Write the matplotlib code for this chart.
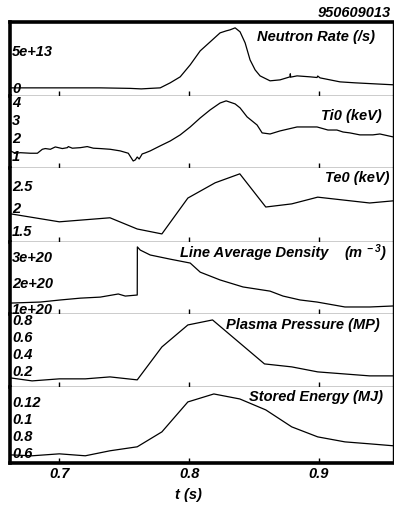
import matplotlib.pyplot as plt
import matplotlib.ticker as ticker

# Fuente tipo Helvetica negrita cursiva para todo el grafico
plt.rcParams['font.family'] = ['Liberation Sans', 'DejaVu Sans']
plt.rcParams['font.weight'] = 'bold'
plt.rcParams['font.style'] = 'italic'
plt.rcParams['font.size'] = 10.5
plt.rcParams['mathtext.fontset'] = 'custom'
plt.rcParams['mathtext.rm'] = 'Liberation Sans:bold:italic'
plt.rcParams['mathtext.it'] = 'Liberation Sans:bold:italic'

disparo = '950609013'

# Tasa de neutrones (/s)
t_neutrones = [0.6623, 0.7008, 0.7315, 0.7546, 0.7631, 0.7700, 0.7777, 0.7854, 0.7931,
               0.8008, 0.8085, 0.8162, 0.8238, 0.8285, 0.8315, 0.8354, 0.8392, 0.8431,
               0.8469, 0.8508, 0.8546, 0.8623, 0.8700, 0.8777, 0.8779, 0.8782, 0.8831,
               0.8931, 0.8985, 0.8990, 0.9008, 0.9162, 0.9277, 0.9431, 0.9577]
neutrones = [0.0, 0.0, 0.0, -0.07, -0.14, -0.07, 0.0, 0.68, 1.49,
             3.11, 5.0, 6.22, 7.43, 7.70, 7.84, 8.11, 7.57, 6.08,
             3.78, 2.43, 1.62, 0.95, 1.08, 1.49, 1.90, 1.45, 1.62,
             1.49, 1.40, 1.60, 1.35, 0.81, 0.68, 0.54, 0.41]
neutrones = [v * 1e13 for v in neutrones]

# Temperatura ionica central (keV)
t_ti = [0.6623, 0.6662, 0.6700, 0.6777, 0.6831, 0.6869, 0.6892, 0.6931, 0.6969, 0.7023,
        0.7062, 0.7069, 0.7100, 0.7162, 0.7215, 0.7262, 0.7315, 0.7392, 0.7469, 0.7531,
        0.7569, 0.7585, 0.7600, 0.7615, 0.7638, 0.7662, 0.7700, 0.7777, 0.7854, 0.7931,
        0.8008, 0.8085, 0.8162, 0.8238, 0.8285, 0.8354, 0.8392, 0.8446, 0.8523, 0.8562,
        0.8623, 0.8700, 0.8831, 0.8985, 0.9069, 0.9138, 0.9185, 0.9238, 0.9315, 0.9415,
        0.9469, 0.9569]
ti = [1.28, 1.15, 1.18, 1.15, 1.15, 1.37, 1.41, 1.37, 1.50, 1.41,
      1.46, 1.52, 1.43, 1.46, 1.52, 1.43, 1.41, 1.37, 1.28, 1.15,
      0.72, 0.78, 0.94, 0.83, 1.11, 1.17, 1.28, 1.56, 1.83, 2.17,
      2.61, 3.11, 3.56, 3.94, 4.06, 3.89, 3.67, 3.17, 2.72, 2.28,
      2.22, 2.39, 2.61, 2.61, 2.44, 2.44, 2.33, 2.28, 2.17, 2.17,
      2.22, 2.06]

# Temperatura electronica central (keV)
t_te = [0.662, 0.700, 0.739, 0.760, 0.779, 0.799, 0.820, 0.839, 0.859, 0.879, 0.899, 0.939, 0.958]
te = [1.87, 1.69, 1.78, 1.53, 1.42, 2.22, 2.56, 2.76, 2.02, 2.09, 2.24, 2.11, 2.16]

# Densidad media de linea (m^-3)
t_densidad = [0.6623, 0.6854, 0.7008, 0.7162, 0.7315, 0.7454, 0.7508, 0.7600, 0.7601,
              0.7623, 0.7700, 0.7854, 0.8008, 0.8085, 0.8238, 0.8415, 0.8623, 0.8723,
              0.8854, 0.8985, 0.9200, 0.9392, 0.9577]
densidad = [1.19, 1.23, 1.31, 1.38, 1.42, 1.54, 1.46, 1.50, 3.35,
            3.23, 3.04, 2.88, 2.73, 2.38, 2.08, 1.81, 1.65, 1.46,
            1.31, 1.23, 1.04, 1.04, 1.08]
densidad = [v * 1e20 for v in densidad]

# Presion del plasma (MP)
t_presion = [0.662, 0.679, 0.700, 0.720, 0.739, 0.760, 0.779, 0.799, 0.818, 0.858, 0.879, 0.899, 0.939, 0.958]
presion = [0.118, 0.082, 0.106, 0.106, 0.129, 0.094, 0.482, 0.741, 0.800, 0.282, 0.247, 0.188, 0.141, 0.141]

# Energia almacenada (MJ)
t_energia = [0.662, 0.679, 0.700, 0.720, 0.739, 0.760, 0.779, 0.799, 0.819, 0.839,
             0.859, 0.879, 0.899, 0.920, 0.939, 0.958]
energia = [0.0576, 0.0565, 0.0588, 0.0565, 0.0624, 0.0671, 0.0847, 0.1200, 0.1294, 0.1235,
           0.1106, 0.0906, 0.0788, 0.0729, 0.0706, 0.0682]

# Configuracion de cada panel: datos, limites, marcas y titulo
paneles = [
    (t_neutrones, neutrones, (-1.1e13, 8.9e13), [0, 5e13], ['0', '5e+13'],
     'Neutron Rate (/s)', 0.953, 0.797),
    (t_ti, ti, (0.33, 4.33), [1, 2, 3, 4], ['1', '2', '3', '4'],
     'Ti0 (keV)', 0.971, 0.722),
    (t_te, te, (1.24, 2.89), [1.5, 2, 2.5], ['1.5', '2', '2.5'],
     'Te0 (keV)', 0.990, 0.865),
    (t_densidad, densidad, (0.77e20, 3.54e20), [1e20, 2e20, 3e20], ['1e+20', '2e+20', '3e+20'],
     'Line Average Density', 0.830, 0.847),
    (t_presion, presion, (0.01, 0.87), [0.2, 0.4, 0.6, 0.8], ['0.2', '0.4', '0.6', '0.8'],
     'Plasma Pressure (MP)', 0.966, 0.849),
    (t_energia, energia, (0.048, 0.1376), [0.06, 0.08, 0.10, 0.12], ['0.6', '0.8', '0.1', '0.12'],
     'Stored Energy (MJ)', 0.974, 0.868),
]

fig, axes = plt.subplots(6, 1, figsize=(3.94, 5.09), dpi=100, sharex=True,
                         gridspec_kw={'height_ratios': [74, 72, 74, 72, 73, 76], 'hspace': 0})
fig.subplots_adjust(left=10 / 394, right=393 / 394, top=1 - 22 / 509, bottom=1 - 463 / 509)

for i, (ax, (t, y, lim, marcas, etiquetas, titulo, tx, ty)) in enumerate(zip(axes, paneles)):
    ax.plot(t, y, color='black', lw=0.9)
    ax.set_xlim(0.662, 0.957)
    ax.set_ylim(*lim)
    ax.set_yticks(marcas)
    ax.yaxis.set_major_formatter(ticker.FixedFormatter(etiquetas))
    ax.tick_params(axis='y', length=0, pad=-1.5)
    for etiqueta in ax.get_yticklabels():
        etiqueta.set_horizontalalignment('left')
    ax.set_xticks([0.7, 0.8, 0.9])
    ax.tick_params(axis='x', direction='in', length=3.5, width=1, top=False, pad=3)
    ax.text(tx, ty, titulo, transform=ax.transAxes, ha='right', va='center')

    # Bordes: exterior grueso a la izquierda, arriba y abajo
    ax.spines['left'].set_linewidth(2.6)
    ax.spines['right'].set_linewidth(1.0)
    ax.spines['top'].set_visible(i == 0)
    ax.spines['top'].set_linewidth(2.6)
    ax.spines['bottom'].set_linewidth(2.6 if i == 5 else 1.0)

axes[3].text(0.984, 0.847, r'(m$^{\mathrm{\ -3}}$)', transform=axes[3].transAxes,
             ha='right', va='center')
axes[-1].xaxis.set_major_formatter(ticker.FormatStrFormatter('%.1f'))

fig.text(188 / 394, 1 - 495 / 509, 't (s)', ha='center', va='center')
fig.text(391 / 394, 1 - 13 / 509, disparo, ha='right', va='center')

fig.savefig('out.png', dpi=100)
